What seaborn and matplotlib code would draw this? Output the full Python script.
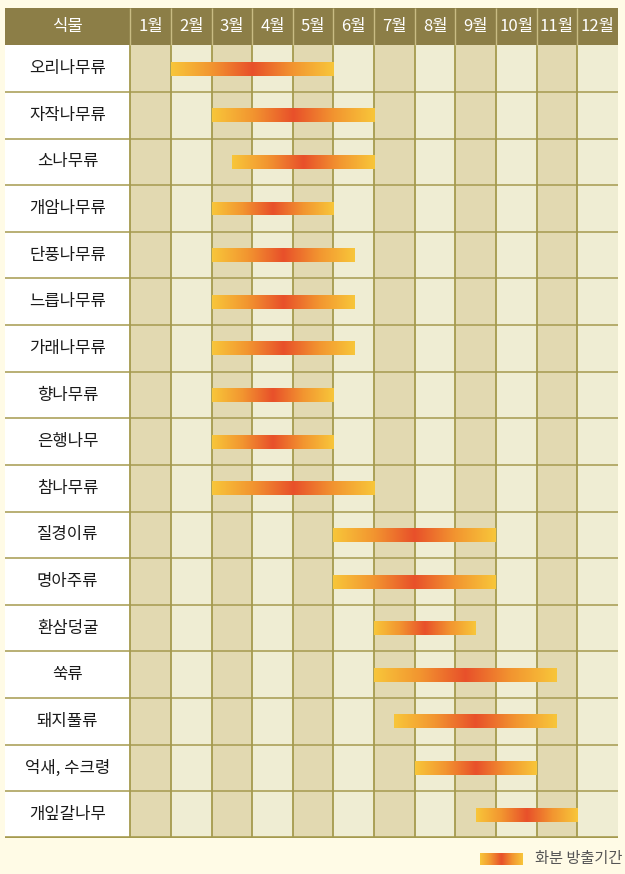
import numpy as np
import pandas as pd
import matplotlib
matplotlib.use("Agg")
import matplotlib.pyplot as plt
import seaborn as sns
from matplotlib.colors import LinearSegmentedColormap
from matplotlib.patches import Rectangle

# ---------------- data ----------------
plants = ['오리나무류', '자작나무류', '소나무류', '개암나무류', '단풍나무류',
          '느릅나무류', '가래나무류', '향나무류', '은행나무', '참나무류',
          '질경이류', '명아주류', '환삼덩굴', '쑥류', '돼지풀류',
          '억새, 수크령', '개잎갈나무']
# positions on a month axis: 0 = start of Jan, 12 = end of Dec
season_start = [1, 2, 2.5, 2, 2, 2, 2, 2, 2, 2, 5, 5, 6, 6, 6.5, 7, 8.5]
season_end = [5, 6, 6, 5, 5.5, 5.5, 5.5, 5, 5, 6, 9, 9, 8.5, 10.5, 10.5, 10, 11]
months = ['1월', '2월', '3월', '4월', '5월', '6월', '7월', '8월', '9월',
          '10월', '11월', '12월']
header_label = '식물'
legend_label = '화분 방출기간'

df = pd.DataFrame({'plant': plants, 'start': season_start, 'end': season_end})
df['duration'] = df['end'] - df['start']

# ---------------- style ----------------
sns.set_theme(style="white")
plt.rcParams['font.family'] = ['Noto Sans CJK KR', 'DejaVu Sans']

BG = '#FFFBE6'
HEADER = '#8C7E47'
HEADER_SEP = '#C9BC84'
GRID = '#A59A4E'
DARK_COL = '#E2D9B1'
LIGHT_COL = '#EFEDD3'
LABEL_W = 3.08
HEADER_H = 0.8

grad_cmap = LinearSegmentedColormap.from_list(
    'pollen', ['#F8C63A', '#F29530', '#E8502A', '#F29530', '#F8C63A'])

fig = plt.figure(figsize=(6.25, 8.74), dpi=100, facecolor=BG)
ax = fig.add_axes([5 / 625, 1 - 838 / 874, 613 / 625, 830 / 874])
ax.set_facecolor(BG)

# bars through seaborn (durations), then shifted to their start
sns.barplot(data=df, x='duration', y='plant', orient='h', width=0.3,
            color='#E8522A', ax=ax, zorder=3)
n = len(plants)
grad = np.linspace(0, 1, 256).reshape(1, -1)
for patch, s in zip(ax.patches, df['start']):
    patch.set_x(s)
    y0 = patch.get_y()
    h = patch.get_height()
    w = patch.get_width()
    patch.set_facecolor('none')
    patch.set_edgecolor('none')
    im = ax.imshow(grad, cmap=grad_cmap, aspect='auto',
                   extent=(s, s + w, y0 + h, y0), zorder=4,
                   interpolation='bilinear')
    im.set_clip_path(patch)

# backgrounds
for i in range(12):
    ax.add_patch(Rectangle((i, -0.5), 1, n, facecolor=DARK_COL if i % 2 == 0 else LIGHT_COL,
                           edgecolor='none', zorder=0))
ax.add_patch(Rectangle((-LABEL_W, -0.5), LABEL_W, n, facecolor='white',
                       edgecolor='none', zorder=0))
ax.add_patch(Rectangle((-LABEL_W, -0.5 - HEADER_H), LABEL_W + 12, HEADER_H,
                       facecolor=HEADER, edgecolor='none', zorder=1))

# grid lines
ax.vlines(range(0, 12), -0.5, n - 0.5, color=GRID, lw=1.3, zorder=2)
ax.vlines(range(0, 12), -0.5 - HEADER_H, -0.5, color=HEADER_SEP, lw=1.0, zorder=2)
ax.hlines(np.arange(0.5, n - 0.5, 1), -LABEL_W, 12, color=GRID, lw=1.1, zorder=2)
ax.hlines(n - 0.5, -LABEL_W, 12, color=GRID, lw=2.6, zorder=5)

# texts
ax.text(-LABEL_W / 2, -0.5 - HEADER_H / 2, header_label, color='white',
        fontsize=12, ha='center', va='center', zorder=6)
for i, m in enumerate(months):
    ax.text(i + 0.5, -0.5 - HEADER_H / 2, m, color='white', fontsize=12,
            ha='center', va='center', zorder=6)
for i, p in enumerate(plants):
    ax.text(-LABEL_W / 2, i, p, color='#1A1A1A', fontsize=12,
            ha='center', va='center', zorder=6)

ax.set_xlim(-LABEL_W, 12)
ax.set_ylim(n - 0.5, -0.5 - HEADER_H)
ax.set_xlabel('')
ax.set_ylabel('')
ax.set_xticks([])
ax.set_yticks([])
for sp in ax.spines.values():
    sp.set_visible(False)

# legend
lax = fig.add_axes([480 / 625, 1 - 865 / 874, 43 / 625, 12 / 874])
lax.imshow(grad, cmap=grad_cmap, aspect='auto', interpolation='bilinear')
lax.axis('off')
fig.text(535 / 625, 1 - 859 / 874, legend_label, color='#555555', fontsize=11,
         ha='left', va='center')

fig.savefig('out.png', dpi=100, facecolor=BG)
